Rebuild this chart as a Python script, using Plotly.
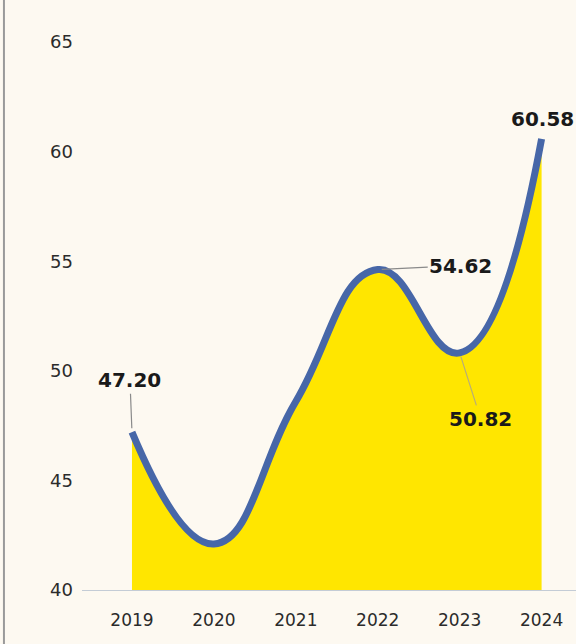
import plotly.graph_objects as go

# Yearly values
years = ["2019", "2020", "2021", "2022", "2023", "2024"]
values = [47.20, 42.10, 48.60, 54.62, 50.82, 60.58]

# Years with a value callout
labeled = ["2019", "2022", "2023", "2024"]

y_ticks = [40, 45, 50, 55, 60, 65]

BG = "#FDF9F1"
LINE = "#4767A8"
FILL = "#FFE600"
TEXT = "#1a1a1a"
TICK = "#2b2b2b"

xpos = list(range(len(years)))

fig = go.Figure()
fig.add_trace(go.Scatter(
    x=xpos, y=values,
    mode="lines",
    line=dict(color=LINE, width=7, shape="spline", smoothing=1.3),
    fill="tozeroy",
    fillcolor=FILL,
    hoverinfo="skip",
    showlegend=False,
))

# Callout offsets (pixels) relative to each point
offsets = {
    "2019": dict(ax=-2, ay=-52, arrow=True, color="#8a8a8a"),
    "2022": dict(ax=83, ay=-4, arrow=True, color="#8a8a8a"),
    "2023": dict(ax=21, ay=66, arrow=True, color="#b8ad78"),
    "2024": dict(ax=1, ay=-20, arrow=False, color=None),
}

label_font = dict(family="DejaVu Sans", size=20, color=TEXT, weight="bold")

for yr in labeled:
    i = years.index(yr)
    o = offsets[yr]
    if o["arrow"]:
        fig.add_annotation(
            x=xpos[i], y=values[i], text=f"{values[i]:.2f}",
            showarrow=True, arrowhead=0, arrowwidth=1.2, arrowcolor=o["color"],
            ax=o["ax"], ay=o["ay"], standoff=4,
            font=label_font,
        )
    else:
        fig.add_annotation(
            x=xpos[i], y=values[i], text=f"{values[i]:.2f}",
            showarrow=False, xshift=o["ax"], yshift=-o["ay"],
            font=label_font,
        )

# Thin frame rule at the left edge
fig.add_shape(type="line", xref="paper", yref="paper",
              x0=-0.158, x1=-0.158, y0=-0.095, y1=1.02,
              line=dict(color="#9a9a9a", width=2))

fig.update_layout(
    width=576, height=644,
    paper_bgcolor=BG, plot_bgcolor=BG,
    margin=dict(l=82, r=0, t=10, b=54),
    font=dict(family="DejaVu Sans", color=TICK),
    xaxis=dict(
        range=[-0.61, 5.42],
        tickvals=xpos, ticktext=years,
        showgrid=False, zeroline=False,
        showline=True, linecolor="#c4ccd6", linewidth=1.2,
        ticks="", tickfont=dict(size=17, color=TICK),
        ticklabelstandoff=14,
    ),
    yaxis=dict(
        range=[40, 66.46],
        tickvals=y_ticks,
        showgrid=False, zeroline=False, showline=False,
        ticks="", tickfont=dict(size=18, color=TICK),
        ticklabelstandoff=8,
    ),
)

fig.write_html("out.html")
